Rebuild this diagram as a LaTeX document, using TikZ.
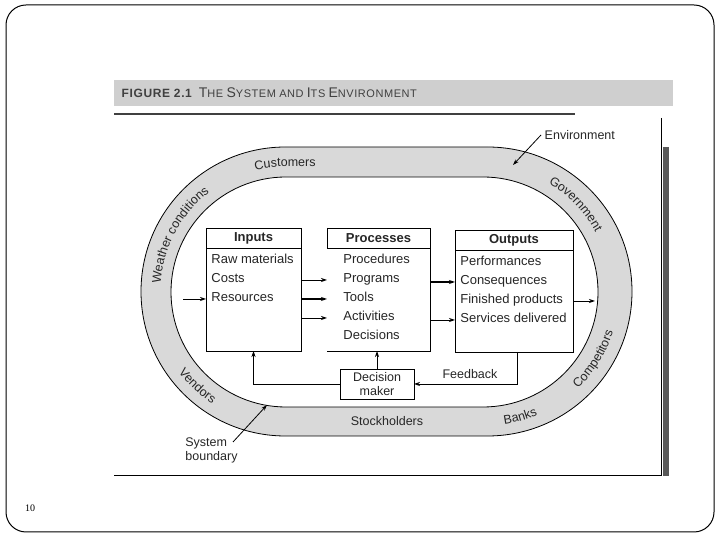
\documentclass[tikz,border=0pt]{standalone}
\usepackage{fontspec}
\setmainfont{Liberation Serif}
\setsansfont{Liberation Sans}
\newfontfamily\titlefont[LetterSpace=5]{Liberation Sans}
\usetikzlibrary{arrows.meta,decorations.text}
\newcommand\ringfont{\sffamily\fontsize{12.5}{15}\selectfont}
\newcommand\sclet[2]{{\fontsize{14}{16}\selectfont #1}{\fontsize{11}{13}\selectfont #2}}

\begin{document}
\begin{tikzpicture}[x=1pt, y=1pt, >={Stealth[length=6pt,width=4pt]}, line width=0.8pt,
    every node/.style={font=\sffamily\fontsize{12.5}{14}\selectfont, text=black!85},
    box/.style={draw, inner sep=0pt, outer sep=0pt},
    head/.style={font=\sffamily\bfseries\fontsize{13}{15}\selectfont},
    item/.style={anchor=west, inner sep=0pt, text height=9pt, text depth=3pt, font=\sffamily\fontsize{13}{15}\selectfont},
    ring/.style={decorate, decoration={text along path, text align=center, text color=black!85, text={|\ringfont|#1}}}]
  % 0. slide frame and page number
  \useasboundingbox (0,0) rectangle (720,540);
  \draw[line width=1pt, rounded corners=20] (6,535) rectangle (714,8);
  \node[font=\rmfamily\fontsize{10}{12}\selectfont, text=black] (pagenum) at (30,32) {10};

  % 1. figure title bar and frame lines
  \fill[gray!38] (114,460) rectangle (673,434);
  \node[anchor=west, font=\titlefont, text=black!75] (figtitle) at (118,447)
    {{\bfseries\fontsize{12}{14}\selectfont FIGURE 2.1}\hspace{7pt}\sclet{T}{HE} \sclet{S}{YSTEM} {\fontsize{11}{13}\selectfont AND} \sclet{I}{TS} \sclet{E}{NVIRONMENT}};
  \draw[line width=1.3pt, black!75] (114,426) -- (575,426);
  \draw[line width=0.6pt] (661,422) -- (661,65) -- (114,65);
  \fill[black!65] (663,393) rectangle (669,64);

  % 2. environment ring
  \coordinate (cL) at (285.5,248.5);
  \coordinate (cR) at (485.5,248.5);
  \draw[fill=gray!30, rounded corners=144.5] (141,393) rectangle (632,104);
  \draw[fill=white, rounded corners=115] (171,363) rectangle (598,133);
  \path[ring=Weather conditions] ([shift={(192:125)}]cL) arc[start angle=192, end angle=112, radius=125];
  \path[ring=Customers] ([shift={(125:125)}]cL) arc[start angle=125, end angle=90, radius=125] -- ++(76,0);
  \path[ring=Government] ([shift={(74:125)}]cR) arc[start angle=74, end angle=14, radius=125];
  \path[ring=Competitors] ([shift={(-52:134)}]cR) arc[start angle=-52, end angle=-12, radius=134];
  \path[ring=Banks] ([shift={(-90:134)}]cR) arc[start angle=-90, end angle=-59, radius=134];
  \path[ring=Vendors] ([shift={(207:134)}]cL) arc[start angle=207, end angle=247, radius=134];
  \node (stock) at (387,119) {Stockholders};

  % 3. the three boxes
  \node[box, minimum width=95, minimum height=123] (inputs) at (253.5,250.5) {};
  \node[inner sep=0pt, outer sep=0pt, minimum width=103, minimum height=123] (processes) at (378.5,250.5) {};
  \node[box, minimum width=118, minimum height=122] (outputs) at (514,249) {};
  \draw (processes.north west) -- (processes.north east) -- (processes.south east) -- (processes.south west);
  \draw (processes.north west) -- ([yshift=-20pt]processes.north west);
  \draw ([yshift=-20pt]inputs.north west) -- ([yshift=-20pt]inputs.north east);
  \draw ([yshift=-20pt]processes.north west) -- ([yshift=-20pt]processes.north east);
  \draw ([yshift=-20pt]outputs.north west) -- ([yshift=-20pt]outputs.north east);
  \node[head] at ([yshift=-10pt]inputs.north) {Inputs};
  \node[head] at ([yshift=-10pt]processes.north) {Processes};
  \node[head] at ([yshift=-10pt]outputs.north) {Outputs};
  \foreach \t [count=\i] in {Raw materials, Costs, Resources}
    \node[item] (in\i) at (211,298-19*\i) {\t};
  \foreach \t [count=\i] in {Procedures, Programs, Tools, Activities, Decisions}
    \node[item] (pr\i) at (343,298-19*\i) {\t};
  \foreach \t [count=\i] in {Performances, Consequences, Finished products, Services delivered}
    \node[item] (out\i) at (460,296-19*\i) {\t};

  % 4. flows between the boxes
  \coordinate (inL) at (183,0);
  \coordinate (outR) at (595,0);
  \draw[->] (inL |- in3) -- (inputs.west |- in3);
  \draw[->] (inputs.east |- pr2) -- (processes.west |- pr2);
  \draw[->, line width=1.3pt] (inputs.east |- pr3) -- (processes.west |- pr3);
  \draw[->] (inputs.east |- pr4) -- (processes.west |- pr4);
  \draw[->, line width=1.2pt] (processes.east |- out2) -- (outputs.west |- out2);
  \draw[->] (processes.east |- out4) -- (outputs.west |- out4);
  \draw[->] (outputs.east |- out3) -- (outR |- out3);

  % 5. decision maker and feedback
  \node[box, minimum width=74, minimum height=30, align=center, inner sep=2pt] (dm) at (377,156) {Decision\\maker};
  \coordinate (fbc) at (517,0);
  \draw[->] (outputs.south -| fbc) |- (dm.east);
  \node (fblabel) at (470,166) {Feedback};
  \draw[->] (dm.north) -- (dm.north |- processes.south);
  \draw[->] (dm.west) -| (inputs.south);

  % 6. callouts
  \node[anchor=west] (env) at (541,405) {Environment};
  \coordinate (envtip) at (513,375);
  \draw[->] (env.west) -- (envtip);
  \node[anchor=west, align=left, inner sep=0pt] (sysb) at (185,90) {System\\boundary};
  \coordinate (sbtail) at (233,98);
  \coordinate (sbtip) at (267,135);
  \draw[->] (sbtail) -- (sbtip);
\end{tikzpicture}
\end{document}
